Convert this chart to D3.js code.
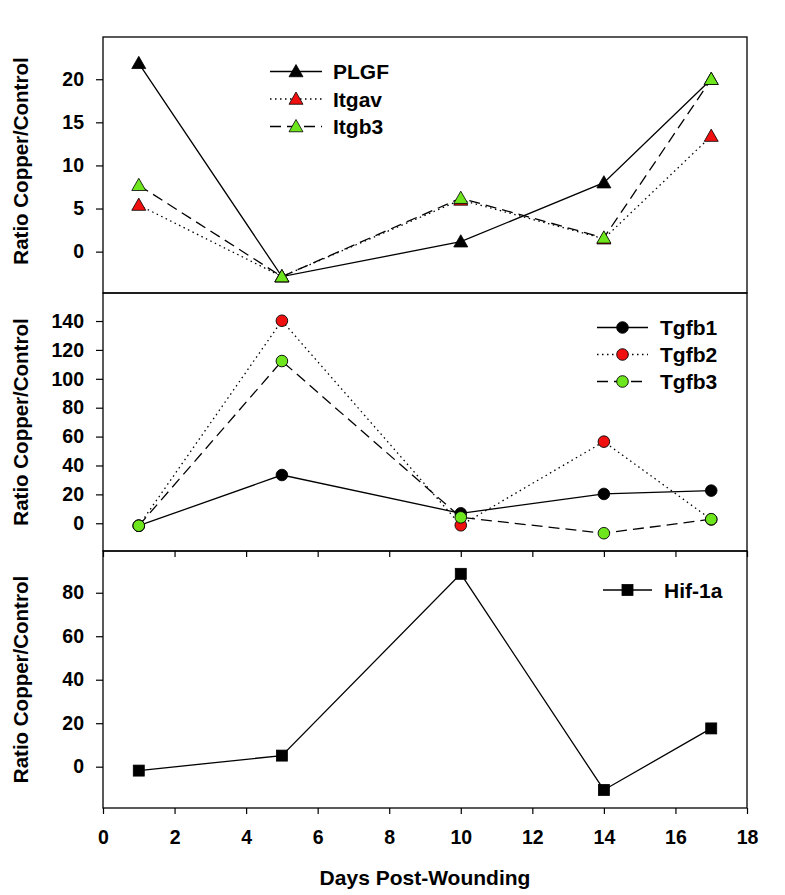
<!DOCTYPE html>
<html><head><meta charset="utf-8">
<script src="https://cdn.jsdelivr.net/npm/d3@7"></script>
<style>body{margin:0;background:#fff}svg text{font-family:"Liberation Sans",Arial,sans-serif;font-weight:bold;fill:#000}</style>
</head><body><svg id="c" width="785" height="895"></svg>
<script>
const days = [1, 5, 10, 14, 17];
const xTicks = [0, 2, 4, 6, 8, 10, 12, 14, 16, 18];
// Panel 1
const plgf  = [21.85, -2.9, 1.15, 8.0, 20.0];
const itgav = [5.4, -2.9, 6.0, 1.5, 13.4];
const itgb3 = [7.7, -2.9, 6.2, 1.6, 20.0];
const ticks1 = [0, 5, 10, 15, 20];
// Panel 2
const tgfb1 = [-1.7, 33.4, 6.9, 20.3, 22.6];
const tgfb2 = [-1.7, 140.2, -1.4, 56.5, 2.6];
const tgfb3 = [-1.7, 112.3, 4.1, -6.9, 2.8];
const ticks2 = [0, 20, 40, 60, 80, 100, 120, 140];
// Panel 3
const hif1a = [-1.8, 5.1, 88.7, -10.7, 17.6];
const ticks3 = [0, 20, 40, 60, 80];

const RED = "#f01010", GREEN = "#6ee61e";
const svg = d3.select("#c");
const L = 103, R = 747;
const x = d3.scaleLinear().domain([0, 18]).range([L, R]);

const panels = [
  {top: 37, bot: 293, domain: [-4.8, 24.9], ticks: ticks1, marker: "tri",
   series: [{name: "PLGF", v: plgf, fill: "#000", dash: null},
            {name: "Itgav", v: itgav, fill: RED, dash: "1.5,3.5"},
            {name: "Itgb3", v: itgb3, fill: GREEN, dash: "11,6"}],
   legend: {x1: 270, x2: 322, tx: 333, y0: 71.5, dy: 27.5}},
  {top: 293, bot: 551, domain: [-19.2, 159.4], ticks: ticks2, marker: "circ",
   series: [{name: "Tgfb1", v: tgfb1, fill: "#000", dash: null},
            {name: "Tgfb2", v: tgfb2, fill: RED, dash: "1.5,3.5"},
            {name: "Tgfb3", v: tgfb3, fill: GREEN, dash: "11,6"}],
   legend: {x1: 597, x2: 648, tx: 660, y0: 327.5, dy: 27}},
  {top: 551, bot: 808, domain: [-19, 99.2], ticks: ticks3, marker: "sq",
   series: [{name: "Hif-1a", v: hif1a, fill: "#000", dash: null}],
   legend: {x1: 603, x2: 652, tx: 664, y0: 590, dy: 27}}
];

function drawMarker(g, type, cx, cy, fill) {
  if (type === "tri") {
    const s = 7;
    g.append("path").attr("d", `M${cx},${cy - s}L${cx + s},${cy + s * 0.75}L${cx - s},${cy + s * 0.75}Z`)
      .attr("fill", fill).attr("stroke", "#000").attr("stroke-width", 0.8);
  } else if (type === "circ") {
    g.append("circle").attr("cx", cx).attr("cy", cy).attr("r", 5.8)
      .attr("fill", fill).attr("stroke", "#000").attr("stroke-width", 0.9);
  } else {
    g.append("rect").attr("x", cx - 5.5).attr("y", cy - 5.5).attr("width", 11).attr("height", 11)
      .attr("fill", fill).attr("stroke", "#000").attr("stroke-width", 0.8);
  }
}

panels.forEach((p, i) => {
  const y = d3.scaleLinear().domain(p.domain).range([p.bot, p.top]);
  const g = svg.append("g");
  const ya = g.append("g").attr("transform", `translate(${L},0)`)
    .call(d3.axisLeft(y).tickValues(p.ticks).tickSize(7).tickPadding(12).tickFormat(d3.format("d")));
  ya.select(".domain").remove();
  ya.selectAll("line").attr("stroke", "#000").attr("stroke-width", 1.2);
  ya.selectAll("text").style("font-size", "19.5px").style("font-family", "Liberation Sans, Arial, sans-serif").style("font-weight", "bold");
  g.append("text").attr("transform", `translate(23,${(p.top + p.bot) / 2 - (i === 0 ? 4 : 0)}) rotate(-90)`)
    .attr("text-anchor", "middle").attr("dominant-baseline", "middle").style("font-size", "20.5px").text("Ratio Copper/Control");
  const line = d3.line().x((d, j) => x(days[j])).y(d => y(d));
  p.series.forEach(s => {
    g.append("path").datum(s.v).attr("d", line).attr("fill", "none").attr("stroke", "#000")
      .attr("stroke-width", 1.3).attr("stroke-dasharray", s.dash);
  });
  p.series.forEach(s => {
    s.v.forEach((d, j) => drawMarker(g, p.marker, x(days[j]), y(d), s.fill));
  });
  p.series.forEach((s, k) => {
    const ly = p.legend.y0 + k * p.legend.dy;
    g.append("line").attr("x1", p.legend.x1).attr("x2", p.legend.x2).attr("y1", ly).attr("y2", ly)
      .attr("stroke", "#000").attr("stroke-width", 1.3).attr("stroke-dasharray", s.dash);
    drawMarker(g, p.marker, (p.legend.x1 + p.legend.x2) / 2, ly, s.fill);
    g.append("text").attr("x", p.legend.tx).attr("y", ly).attr("dominant-baseline", "central")
      .style("font-size", "21px").text(s.name);
  });
  g.append("rect").attr("x", L).attr("y", p.top).attr("width", R - L).attr("height", p.bot - p.top)
    .attr("fill", "none").attr("stroke", "#000").attr("stroke-width", 1.3);
  if (i === 2) {
    const xa = g.append("g").attr("transform", `translate(0,${p.bot})`)
      .call(d3.axisBottom(x).tickValues(xTicks).tickSize(6).tickPadding(16).tickFormat(d3.format("d")));
    xa.select(".domain").remove();
    xa.selectAll("line").attr("stroke", "#000").attr("stroke-width", 1.2);
    xa.selectAll("text").style("font-size", "19.5px").style("font-family", "Liberation Sans, Arial, sans-serif").style("font-weight", "bold");
    const xt = g.append("g").attr("transform", `translate(0,${p.top})`)
      .call(d3.axisBottom(x).tickValues(xTicks).tickSize(6).tickFormat(""));
    xt.select(".domain").remove();
    xt.selectAll("line").attr("stroke", "#000").attr("stroke-width", 1.2);
  }
});

svg.append("text").attr("x", (L + R) / 2).attr("y", 885).attr("text-anchor", "middle")
  .style("font-size", "21px").text("Days Post-Wounding");
</script></body></html>
